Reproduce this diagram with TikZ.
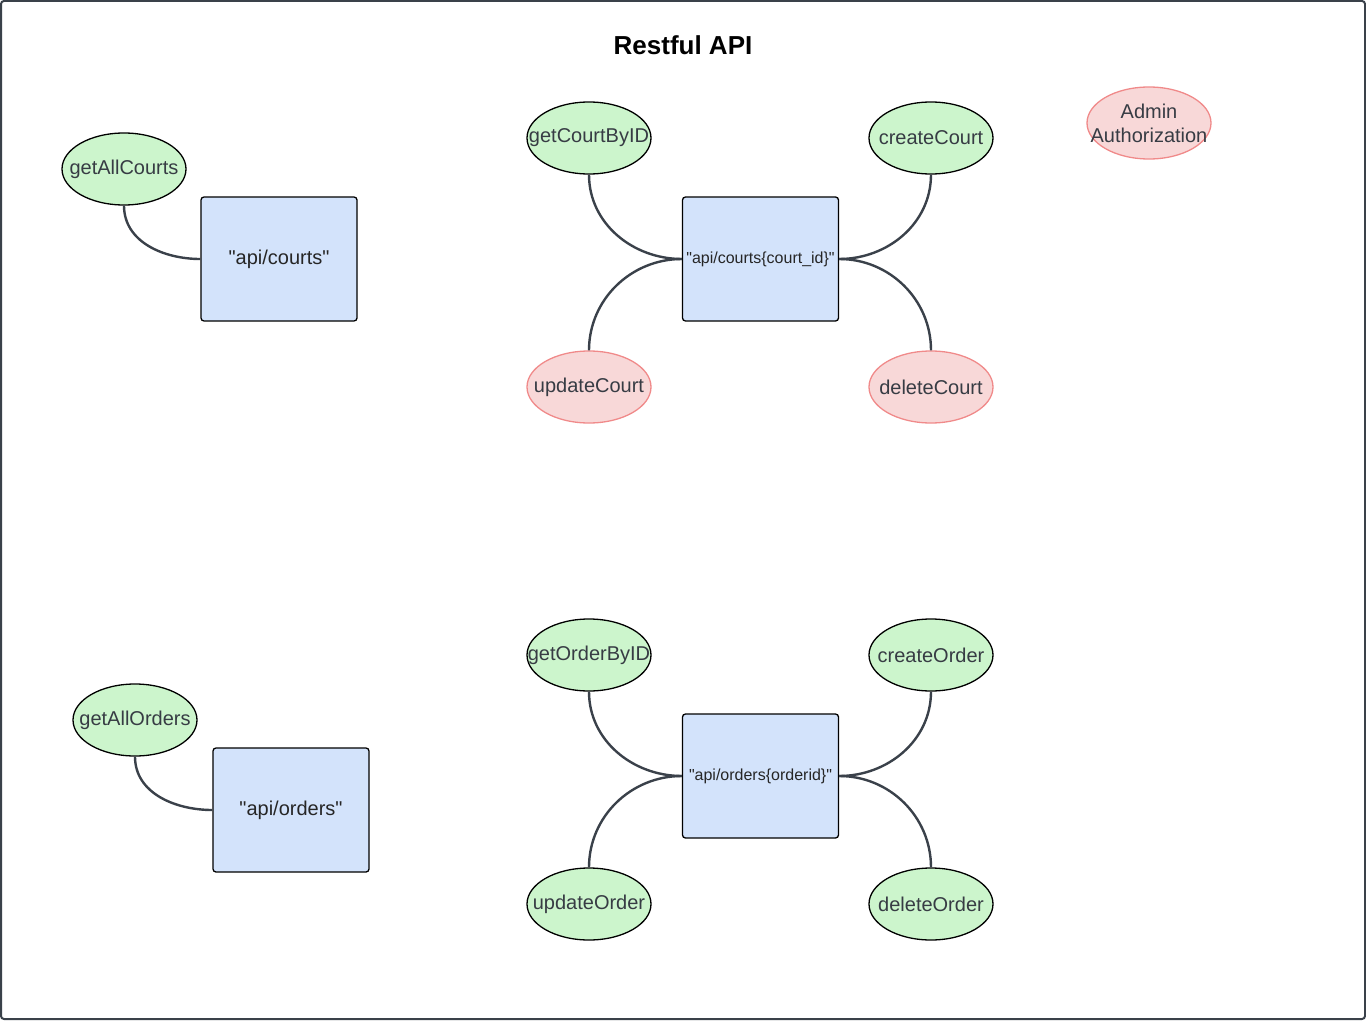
\documentclass[tikz,border=0pt]{standalone}
\usepackage{fontspec}
\setmainfont{Liberation Sans}[Ligatures=TeXOff]
\usetikzlibrary{shapes.geometric}
\definecolor{okgreen}{RGB}{204,245,204}
\definecolor{adminred}{RGB}{248,216,216}
\definecolor{adminline}{RGB}{240,138,138}
\definecolor{routeblue}{RGB}{211,227,251}
\definecolor{wire}{RGB}{58,65,74}
\definecolor{ink}{RGB}{55,60,68}
\begin{document}
\begin{tikzpicture}[x=1pt,y=-1pt]

      \useasboundingbox (0,0) rectangle (1366,1022);
      \draw[wire,line width=2pt,rounded corners=3pt] (1,1) rectangle (1365,1019);
      \node[font=\fontsize{26}{30}\selectfont\bfseries] (title) at (683,45) {Restful API};

      \begin{scope}[every node/.style={ellipse,draw,line width=1.3pt,fill=okgreen,
          minimum width=124pt,minimum height=72pt,inner xsep=-20pt,inner ysep=0pt,
          text=ink,font=\fontsize{20}{24}\selectfont}]
        \node (allcourts)   at (124,169) {getAllCourts};
        \node (courtbyid)   at (589,138) {getCourtByID};
        \node (createcourt) at (931,138) {createCourt};
        \node[fill=adminred,draw=adminline] (updatecourt) at (589,387) {updateCourt};
        \node[fill=adminred,draw=adminline] (deletecourt) at (931,387) {deleteCourt};
        \node[fill=adminred,draw=adminline,align=center] (admin) at (1149,123) {Admin\\Authorization};
        \node (allorders)   at (135,720) {getAllOrders};
        \node (orderbyid)   at (589,655) {getOrderByID};
        \node (createorder) at (931,655) {createOrder};
        \node (updateorder) at (589,904) {updateOrder};
        \node (deleteorder) at (931,904) {deleteOrder};
      \end{scope}

      \begin{scope}[every node/.style={rectangle,draw,line width=1.3pt,rounded corners=3pt,
          fill=routeblue,minimum width=156pt,minimum height=124pt,inner sep=0pt,
          text=black!85,font=\fontsize{20}{24}\selectfont}]
        \node (courts)  at (279,259) {"api/courts"};
        \node[font=\fontsize{16}{19}\selectfont] (courtid) at (760.5,259) {"api/courts\{court\_id\}"};
        \node (orders)  at (291,810) {"api/orders"};
        \node[font=\fontsize{16}{19}\selectfont] (orderid) at (760.5,776) {"api/orders\{orderid\}"};
      \end{scope}

      \begin{scope}[every edge/.style={draw,wire,line width=2.4pt}]
        \path (allcourts.south)   edge[out=-90,in=180] (courts.west);
        \path (courtbyid.south)   edge[out=-90,in=180] (courtid.west);
        \path (updatecourt.north) edge[out=90,in=180]  (courtid.west);
        \path (createcourt.south) edge[out=-90,in=0]   (courtid.east);
        \path (deletecourt.north) edge[out=90,in=0]    (courtid.east);
        \path (allorders.south)   edge[out=-90,in=180] (orders.west);
        \path (orderbyid.south)   edge[out=-90,in=180] (orderid.west);
        \path (updateorder.north) edge[out=90,in=180]  (orderid.west);
        \path (createorder.south) edge[out=-90,in=0]   (orderid.east);
        \path (deleteorder.north) edge[out=90,in=0]    (orderid.east);
      \end{scope}

    \end{tikzpicture}
\end{document}
